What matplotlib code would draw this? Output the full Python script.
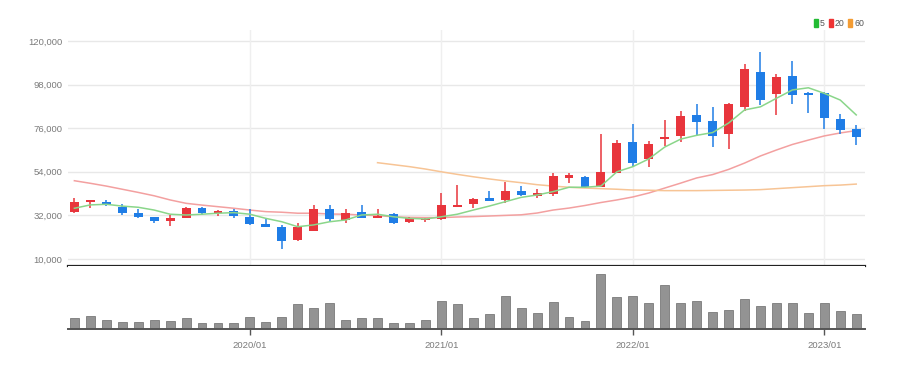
import numpy as np
import pandas as pd
import matplotlib
matplotlib.use('Agg')
import matplotlib.pyplot as plt
from matplotlib.patches import Patch
from matplotlib import font_manager

# a narrow face is closest to the original, fall back to Liberation Sans
names = {f.name for f in font_manager.fontManager.ttflist}
if 'Liberation Sans Narrow' in names:
    plt.rcParams['font.family'] = ['Liberation Sans Narrow', 'DejaVu Sans']
    tick_size = 8
else:
    plt.rcParams['font.family'] = ['Liberation Sans', 'DejaVu Sans']
    tick_size = 6.8

# monthly candles, 2019/02 .. 2023/03
months = pd.date_range('2019-02-01', '2023-03-01', freq='MS').strftime('%Y/%m').tolist()

opens = [33900, 38900, 38900, 36400, 33000, 31000, 29300, 30900, 35600, 33100,
         34400, 31300, 27700, 26000, 19600, 24300, 35200, 29700, 33600, 30900,
         32600, 28500, 29500, 30200, 36400, 37700, 40600, 39800, 44500, 41800,
         42600, 51000, 51200, 46500, 53500, 69200, 60300, 70700, 72100, 82700,
         79600, 72900, 86800, 104200, 93300, 102500, 93600, 93600, 80600, 75400]
highs = [40600, 39900, 39800, 37600, 35000, 31300, 32200, 36100, 36400, 34700,
         35100, 35100, 30000, 27200, 28300, 37200, 37200, 35400, 37200, 35400,
         33100, 31300, 30900, 43100, 47300, 40600, 44500, 49000, 46800, 45300,
         53500, 53200, 51900, 73000, 70000, 78100, 69700, 80100, 84700, 88200,
         86900, 88600, 108400, 114300, 103200, 110000, 94400, 94400, 83000, 77600]
lows = [33000, 35600, 36700, 32200, 30800, 28300, 26700, 30500, 32200, 31900,
        30900, 27200, 26000, 15000, 19200, 24000, 28800, 28000, 30500, 30500,
        27500, 28000, 28500, 29800, 36100, 35600, 39200, 38100, 41800, 40600,
        41800, 48500, 46000, 46200, 53200, 56600, 56600, 67000, 69200, 72600,
        66700, 65400, 84800, 87700, 82700, 88000, 83800, 75400, 73100, 67500]
closes = [38900, 39800, 37200, 33100, 31000, 29300, 30800, 35600, 33400, 34200,
          31700, 27700, 26300, 19200, 26000, 35400, 30200, 33400, 30900, 31900,
          28200, 30500, 30300, 37100, 37400, 40100, 39400, 44500, 42300, 43200,
          51900, 52200, 46500, 53700, 68700, 58300, 68000, 71700, 82200, 79300,
          72200, 88000, 105700, 90200, 101700, 92700, 92800, 81000, 75100, 71700]
volumes = [11300, 13000, 9000, 7300, 7300, 9000, 8000, 10700, 6000, 5700,
           6300, 12300, 7300, 12300, 24700, 21300, 26300, 9000, 11300, 10700,
           5700, 6300, 9000, 28300, 24700, 11300, 14700, 33000, 20700, 16300,
           27300, 12300, 8000, 54700, 32300, 33000, 26300, 44000, 26300, 28000,
           17300, 19000, 29700, 23000, 25700, 25700, 15700, 26300, 18000, 14700]

# moving averages as drawn (they use history before the first visible month)
ma5 = [35600, 37300, 37600, 36700, 36100, 34700, 32600, 32200, 32600, 33100,
       33400, 32600, 30500, 28800, 26300, 27200, 28800, 29700, 32200, 32600,
       31300, 30500, 30200, 31300, 32600, 34700, 36700, 38900, 41100, 42300,
       44000, 46200, 46200, 46800, 54000, 56600, 60500, 66500, 70500, 72400,
       73800, 78600, 85200, 86800, 91100, 95300, 96400, 93600, 90200, 82700]
ma20 = [49500, 48200, 46800, 45200, 43600, 41900, 39800, 38100, 37200, 36400,
        35600, 34700, 33900, 33600, 33100, 33100, 32700, 32600, 32200, 31900,
        31300, 31000, 30900, 30900, 31200, 31400, 31700, 32000, 32300, 33200,
        34700, 35700, 37000, 38500, 39800, 41300, 43300, 45800, 48300, 50900,
        52600, 55200, 58400, 62000, 65000, 67800, 70000, 72100, 73600, 74800]
ma60_start = 19
ma60 = [58600, 57600, 56600, 55400, 54000, 52700, 51500, 50400, 49400, 48500,
        47500, 46800, 46200, 45800, 45500, 45200, 44800, 44700, 44500, 44500,
        44500, 44600, 44700, 44800, 45000, 45500, 46000, 46500, 47000, 47300,
        47800]

price_ticks = [10000, 32000, 54000, 76000, 98000, 120000]
year_ticks = ['2020/01', '2021/01', '2022/01', '2023/01']

up_color = '#e8353c'
down_color = '#1f7de6'
grey_txt = '#7a7a7a'

x = np.arange(len(months))
o = np.array(opens)
c = np.array(closes)
up = c >= o

fig = plt.figure(figsize=(9.03, 3.70), dpi=100)
ax = fig.add_axes([68 / 903, 1 - 266 / 370, 797 / 903, 236 / 370])
axv = fig.add_axes([68 / 903, 1 - 329 / 370, 797 / 903, 63 / 370], sharex=ax)

# grid
for t in price_ticks:
    ax.axhline(t, color='#e8e8e8', lw=1, zorder=0)
for lab in year_ticks:
    ax.axvline(months.index(lab), color='#efefef', lw=1, zorder=0)

# candles
cols = np.where(up, up_color, down_color)
ax.vlines(x, lows, highs, colors=cols, lw=1.1, zorder=2)
body_lo = np.minimum(o, c)
body_h = np.maximum(np.abs(c - o), 500)
ax.bar(x, body_h, bottom=body_lo, width=0.56, color=cols, zorder=3)

# moving averages
ax.plot(x, ma5, color='#8ad68a', lw=1.1, zorder=4)
ax.plot(x, ma20, color='#f3a0a0', lw=1.1, zorder=1)
ax.plot(x[ma60_start:], ma60, color='#f7c495', lw=1.1, zorder=1)

ax.set_xlim(-0.4, len(months) - 0.45)
ax.set_ylim(6470, 125550)
ax.set_yticks(price_ticks)
ax.set_yticklabels([f'{t:,}' for t in price_ticks])
ax.tick_params(axis='y', length=0, pad=4, labelsize=tick_size, labelcolor=grey_txt)
ax.tick_params(axis='x', bottom=False, labelbottom=False)
for s in ['top', 'right', 'left']:
    ax.spines[s].set_visible(False)
ax.spines['bottom'].set_color('#222222')
ax.spines['bottom'].set_linewidth(1.6)

# volume
axv.bar(x, volumes, width=0.56, color='#939393', edgecolor='#7a7a7a', lw=0.6)
axv.set_ylim(0, 63000)
axv.set_yticks([])
for s in ['top', 'right', 'left']:
    axv.spines[s].set_visible(False)
axv.spines['bottom'].set_color('#555555')
axv.spines['bottom'].set_linewidth(1.4)
axv.set_xticks([months.index(lab) for lab in year_ticks])
axv.set_xticklabels(year_ticks)
axv.tick_params(axis='x', length=4, width=1, color='#555555', pad=5,
                labelsize=tick_size, labelcolor=grey_txt)

# legend
handles = [Patch(color='#22bb33', label='5'),
           Patch(color='#ee3333', label='20'),
           Patch(color='#f39c33', label='60')]
fig.legend(handles=handles, loc='upper right', bbox_to_anchor=(864 / 903, 1 - 19 / 370),
           ncol=3, frameon=False, fontsize=tick_size - 0.5, handlelength=0.45,
           handleheight=0.9, handletextpad=0.2, columnspacing=0.5,
           labelcolor='#555555', borderpad=0, borderaxespad=0)

fig.savefig('out.png', dpi=100)
